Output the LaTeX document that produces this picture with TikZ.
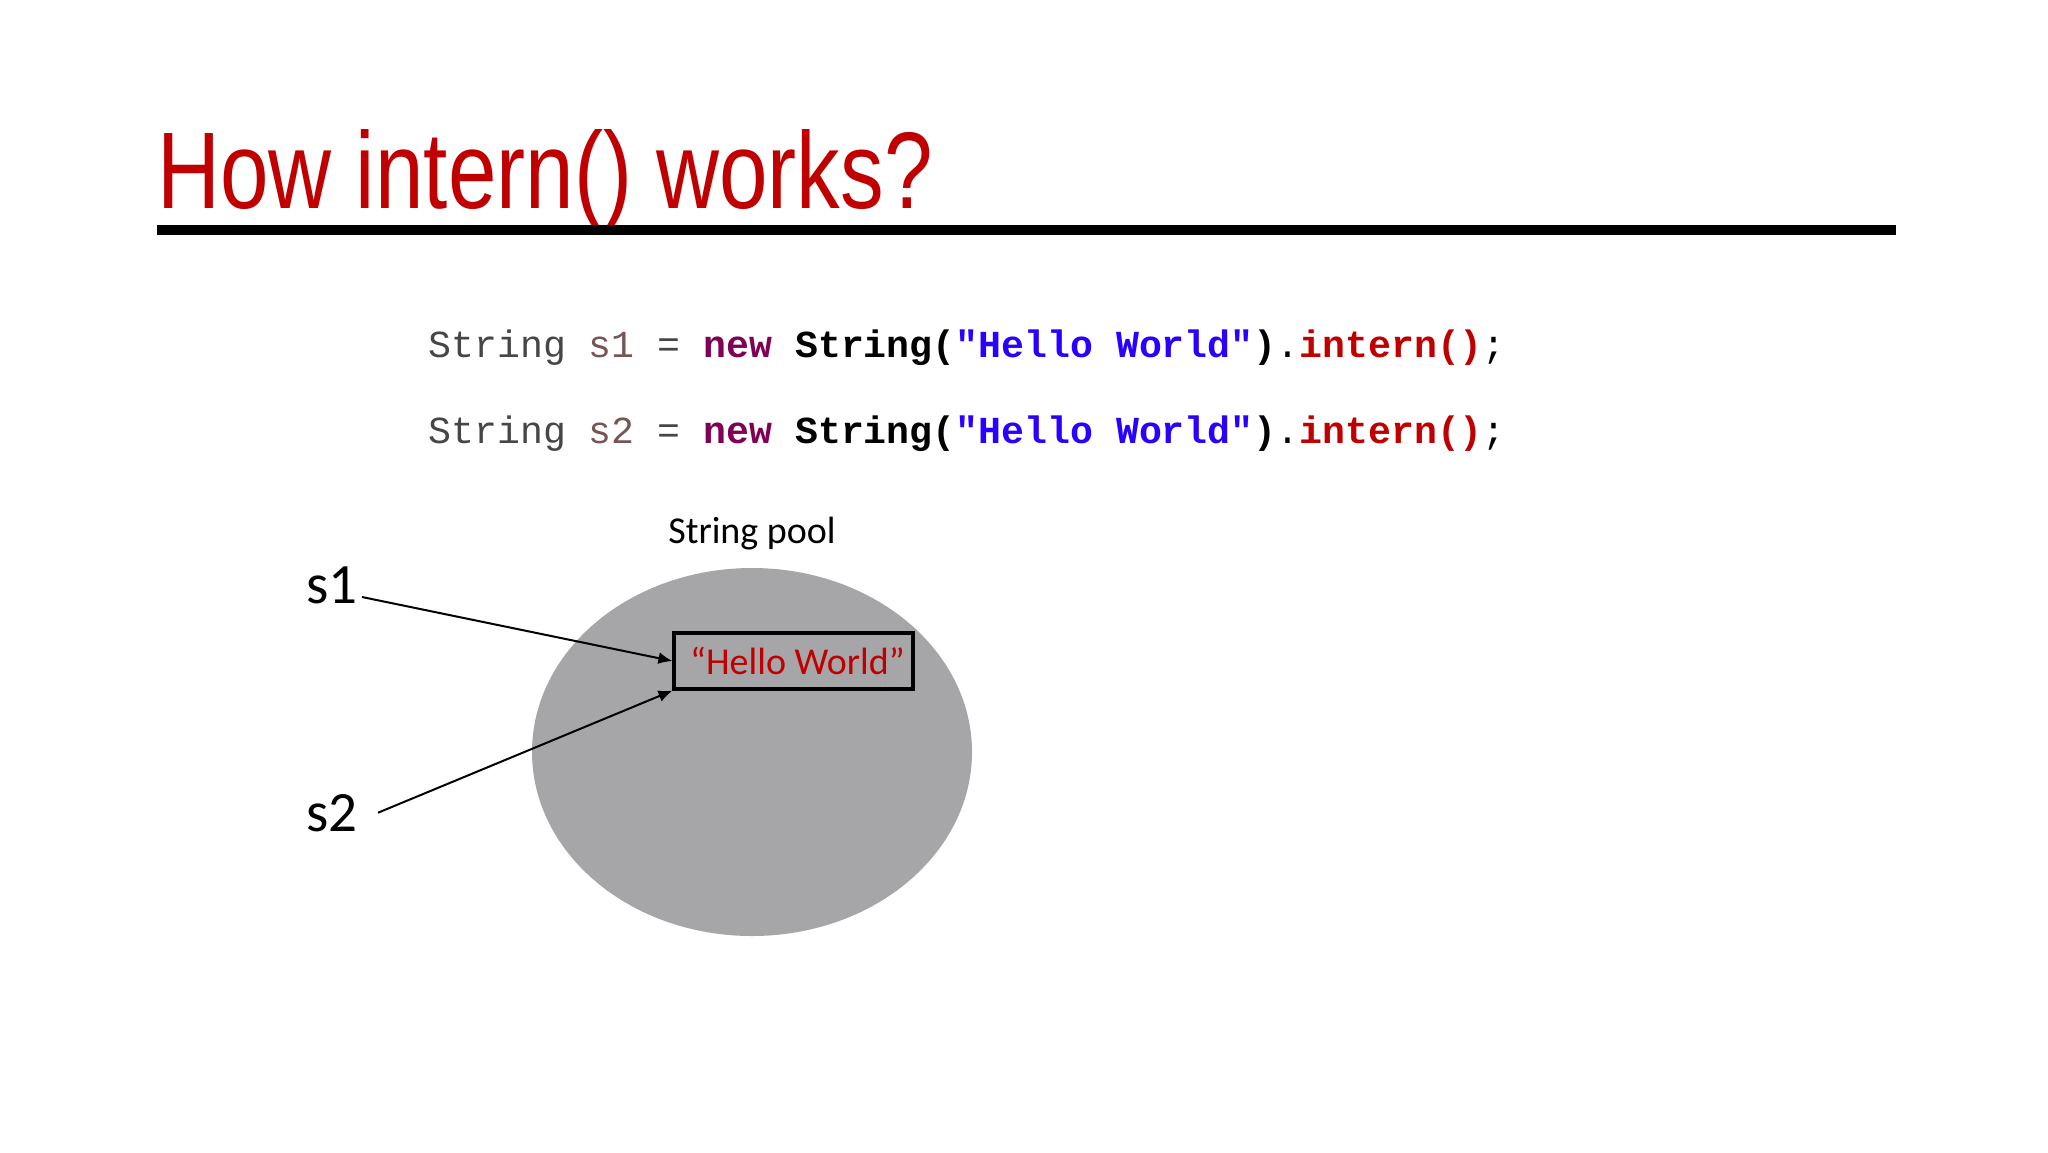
\documentclass[tikz,border=0pt]{standalone}
\usepackage{fontspec}
\setmainfont{Carlito}
\newfontfamily\titlefont{Liberation Sans}
\newfontfamily\codefont{Liberation Mono}
\usetikzlibrary{arrows.meta}
\definecolor{titlered}{RGB}{192, 0, 0}
\definecolor{poolgray}{RGB}{166, 165, 168}
\definecolor{kwpurple}{RGB}{127, 0, 85}
\definecolor{strblue}{RGB}{42, 0, 255}
\definecolor{vargray}{RGB}{120, 85, 85}
\definecolor{codegray}{RGB}{70, 70, 70}
\newcommand{\internline}[1]{\textcolor{codegray}{String} \textcolor{vargray}{#1} \textcolor{codegray}{=} \textcolor{kwpurple}{\bfseries new} \textbf{String(}\textcolor{strblue}{\bfseries "Hello World"}\textbf{)}.\textcolor{titlered}{\bfseries intern()};}
\tikzset{
    refname/.style={anchor=base east, inner sep=2pt, font=\fontsize{28.5}{32}\selectfont},
    codeline/.style={anchor=base west, inner sep=0, font=\codefont\fontsize{19.1}{23}\selectfont},
    ptr/.style={line width=1pt, -{Latex[length=7pt, width=6pt]}}
}

\begin{document}
\begin{tikzpicture}[x=0.5pt, y=-0.5pt]
                \useasboundingbox (0,0) rectangle (2048,1152);
                \fill[white] (0,0) rectangle (2048,1152);
                % title and rule
                \node[anchor=base west, inner sep=0, text=titlered, font=\titlefont\fontsize{54.5}{60}\selectfont] (title) at (157,208) {\scalebox{0.8}[1]{How intern() works?}};
                \draw[line width=5pt] (157,230) -- (1896,230);
                % code
                \node[codeline] (line1) at (428,357) {\internline{s1}};
                \node[codeline] (line2) at (428,443) {\internline{s2}};
                % string pool
                \fill[poolgray] (752,752) ellipse [x radius=220, y radius=184];
                \node[anchor=base, inner sep=0, font=\fontsize{19}{22}\selectfont] (poolname) at (752,543) {String pool};
                \node[draw, line width=1.6pt, inner sep=0, minimum width=119.5pt, minimum height=28pt, text=titlered, font=\fontsize{19}{22}\selectfont] (hw) at (793.5,661) {\hspace{4pt}\raisebox{-1.3pt}{“Hello World”}};
                \node[refname] (s1) at (362,603) {s1};
                \node[refname] (s2) at (362,831) {s2};
                \draw[ptr] ([yshift=3pt]s1.base east) -- (hw.west);
                \draw[ptr] ([xshift=8pt]s2.east) -- (hw.south west);
\end{tikzpicture}
\end{document}
